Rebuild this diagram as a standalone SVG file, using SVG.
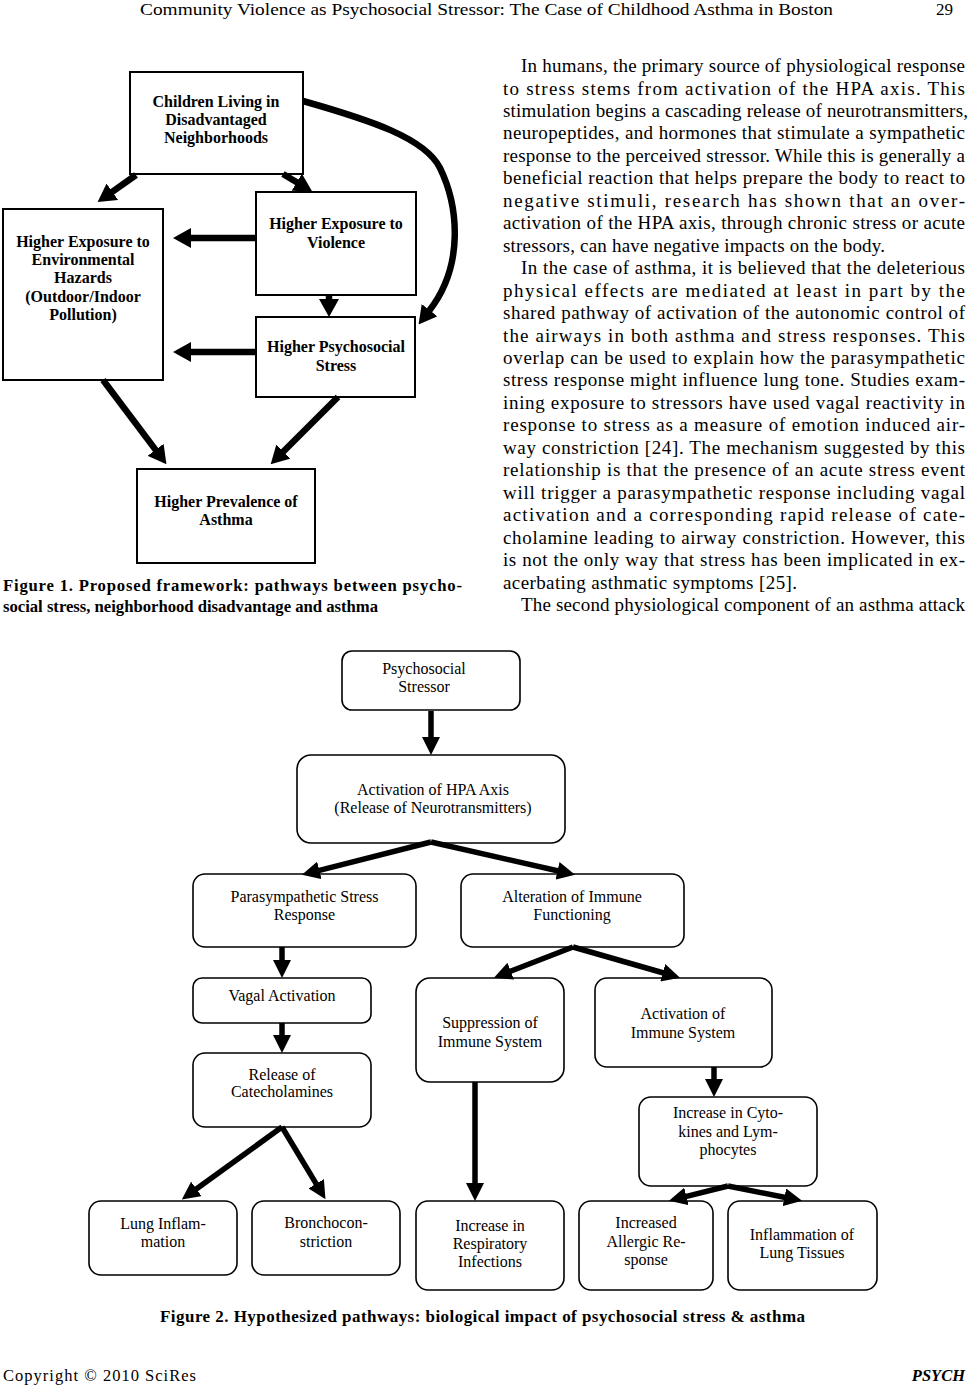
<svg xmlns="http://www.w3.org/2000/svg" width="969" height="1386" viewBox="0 0 969 1386">
<style>
text{font-family:"Liberation Serif","Times New Roman",serif;fill:#000}
.hd{font-size:17px}
.body{font-size:19px}
.f1{font-size:16px;font-weight:bold;text-anchor:middle}
.f2{font-size:16px;text-anchor:middle}
.cap{font-size:16.7px;font-weight:bold}
.b1{fill:#fff;stroke:#000;stroke-width:2}
.b2{fill:#fff;stroke:#000;stroke-width:1.6}
.a1{fill:none;stroke:#000;stroke-width:6.5;marker-end:url(#h1)}
.a2{fill:none;stroke:#000;stroke-width:5.5;marker-end:url(#h2)}
</style>
<defs>
<marker id="h1" markerUnits="userSpaceOnUse" viewBox="0 0 18 20" markerWidth="18" markerHeight="20" refX="1" refY="10" orient="auto"><path d="M0,0 L18,10 L0,20 z" fill="#000"/></marker>
<marker id="h2" markerUnits="userSpaceOnUse" viewBox="0 0 18 18" markerWidth="18" markerHeight="18" refX="1" refY="9" orient="auto"><path d="M0,0 L18,9 L0,18 z" fill="#000"/></marker>
</defs>
<rect width="969" height="1386" fill="#fff"/>

<!-- header -->
<text class="hd" x="140" y="15" textLength="693" lengthAdjust="spacingAndGlyphs">Community Violence as Psychosocial Stressor: The Case of Childhood Asthma in Boston</text>
<text class="hd" x="936" y="15">29</text>

<!-- body text -->
<g class="body">
<text x="521" y="72" textLength="444" lengthAdjust="spacing">In humans, the primary source of physiological response</text>
<text x="503" y="94.5" textLength="462" lengthAdjust="spacing">to stress stems from activation of the HPA axis. This</text>
<text x="503" y="116.9" textLength="465" lengthAdjust="spacing">stimulation begins a cascading release of neurotransmitters,</text>
<text x="503" y="139.4" textLength="462" lengthAdjust="spacing">neuropeptides, and hormones that stimulate a sympathetic</text>
<text x="503" y="161.8" textLength="462" lengthAdjust="spacing">response to the perceived stressor. While this is generally a</text>
<text x="503" y="184.3" textLength="462" lengthAdjust="spacing">beneficial reaction that helps prepare the body to react to</text>
<text x="503" y="206.8" textLength="462" lengthAdjust="spacing">negative stimuli, research has shown that an over-</text>
<text x="503" y="229.2" textLength="462" lengthAdjust="spacing">activation of the HPA axis, through chronic stress or acute</text>
<text x="503" y="251.7" textLength="382" lengthAdjust="spacing">stressors, can have negative impacts on the body.</text>
<text x="521" y="274.1" textLength="444" lengthAdjust="spacing">In the case of asthma, it is believed that the deleterious</text>
<text x="503" y="296.6" textLength="462" lengthAdjust="spacing">physical effects are mediated at least in part by the</text>
<text x="503" y="319.1" textLength="462" lengthAdjust="spacing">shared pathway of activation of the autonomic control of</text>
<text x="503" y="341.5" textLength="462" lengthAdjust="spacing">the airways in both asthma and stress responses. This</text>
<text x="503" y="364" textLength="462" lengthAdjust="spacing">overlap can be used to explain how the parasympathetic</text>
<text x="503" y="386.4" textLength="462" lengthAdjust="spacing">stress response might influence lung tone. Studies exam-</text>
<text x="503" y="408.9" textLength="462" lengthAdjust="spacing">ining exposure to stressors have used vagal reactivity in</text>
<text x="503" y="431.4" textLength="462" lengthAdjust="spacing">response to stress as a measure of emotion induced air-</text>
<text x="503" y="453.8" textLength="462" lengthAdjust="spacing">way constriction [24]. The mechanism suggested by this</text>
<text x="503" y="476.3" textLength="462" lengthAdjust="spacing">relationship is that the presence of an acute stress event</text>
<text x="503" y="498.7" textLength="462" lengthAdjust="spacing">will trigger a parasympathetic response including vagal</text>
<text x="503" y="521.2" textLength="462" lengthAdjust="spacing">activation and a corresponding rapid release of cate-</text>
<text x="503" y="543.7" textLength="462" lengthAdjust="spacing">cholamine leading to airway constriction. However, this</text>
<text x="503" y="566.1" textLength="462" lengthAdjust="spacing">is not the only way that stress has been implicated in ex-</text>
<text x="503" y="588.6" textLength="294" lengthAdjust="spacing">acerbating asthmatic symptoms [25].</text>
<text x="521" y="611" textLength="444" lengthAdjust="spacing">The second physiological component of an asthma attack</text>
</g>

<!-- Figure 1 -->
<g id="f1-children"><rect class="b1" x="130" y="72" width="173" height="102"/>
<text class="f1" x="216" y="106.5">Children Living in</text><text class="f1" x="216" y="124.7">Disadvantaged</text><text class="f1" x="216" y="142.8">Neighborhoods</text></g>
<g id="f1-env"><rect class="b1" x="3" y="209" width="160" height="171"/>
<text class="f1" x="83" y="246.7">Higher Exposure to</text><text class="f1" x="83" y="265">Environmental</text><text class="f1" x="83" y="283.3">Hazards</text><text class="f1" x="83" y="301.5">(Outdoor/Indoor</text><text class="f1" x="83" y="320">Pollution)</text></g>
<g id="f1-violence"><rect class="b1" x="256" y="192" width="160" height="103"/>
<text class="f1" x="336" y="229.3">Higher Exposure to</text><text class="f1" x="336" y="247.7">Violence</text></g>
<g id="f1-stress"><rect class="b1" x="256" y="317" width="159" height="80"/>
<text class="f1" x="336" y="352.3">Higher Psychosocial</text><text class="f1" x="336" y="370.7">Stress</text></g>
<g id="f1-asthma"><rect class="b1" x="137" y="469" width="178" height="94"/>
<text class="f1" x="226" y="506.7">Higher Prevalence of</text><text class="f1" x="226" y="524.5">Asthma</text></g>

<g id="f1-connectors">
<path class="a1" d="M136,175 L111.5,192.3"/>
<path class="a1" d="M283,174 L297.6,182.7"/>
<path class="a1" d="M303,101 C370,120 425,138 440,168 C458,205 465,265 429,311"/>
<path class="a1" d="M256,238 L190,238"/>
<path class="a1" d="M329,295 L329,300"/>
<path class="a1" d="M256,352 L190,352"/>
<path class="a1" d="M103,380 L156.2,450.6"/>
<path class="a1" d="M338,397 L282.7,452.3"/>
</g>

<text class="cap" x="3" y="590.5" textLength="459" lengthAdjust="spacing">Figure 1. Proposed framework: pathways between psycho-</text>
<text class="cap" x="3" y="611.5" textLength="375" lengthAdjust="spacing">social stress, neighborhood disadvantage and asthma</text>

<!-- Figure 2 -->
<g id="n-stressor"><rect class="b2" x="342" y="651" width="178" height="59" rx="10"/>
<text class="f2" x="424" y="674">Psychosocial</text><text class="f2" x="424" y="691.7">Stressor</text></g>
<g id="n-hpa"><rect class="b2" x="297" y="755" width="268" height="88" rx="14"/>
<text class="f2" x="433" y="795">Activation of HPA Axis</text><text class="f2" x="433" y="812.7">(Release of Neurotransmitters)</text></g>
<g id="n-para"><rect class="b2" x="193" y="874" width="223" height="73" rx="12"/>
<text class="f2" x="304.5" y="901.7">Parasympathetic Stress</text><text class="f2" x="304.5" y="920">Response</text></g>
<g id="n-alt"><rect class="b2" x="461" y="874" width="223" height="73" rx="12"/>
<text class="f2" x="572" y="901.7">Alteration of Immune</text><text class="f2" x="572" y="920">Functioning</text></g>
<g id="n-vagal"><rect class="b2" x="193" y="978" width="178" height="45" rx="9"/>
<text class="f2" x="282" y="1000.7">Vagal Activation</text></g>
<g id="n-release"><rect class="b2" x="193" y="1053" width="178" height="74" rx="12"/>
<text class="f2" x="282" y="1080">Release of</text><text class="f2" x="282" y="1097.3">Catecholamines</text></g>
<g id="n-supp"><rect class="b2" x="416" y="978" width="148" height="104" rx="14"/>
<text class="f2" x="490" y="1028.3">Suppression of</text><text class="f2" x="490" y="1046.7">Immune System</text></g>
<g id="n-act"><rect class="b2" x="595" y="978" width="177" height="89" rx="12"/>
<text class="f2" x="683" y="1019.3">Activation of</text><text class="f2" x="683" y="1037.7">Immune System</text></g>
<g id="n-cyto"><rect class="b2" x="639" y="1097" width="178" height="89" rx="12"/>
<text class="f2" x="728" y="1118.3">Increase in Cyto-</text><text class="f2" x="728" y="1136.7">kines and Lym-</text><text class="f2" x="728" y="1155">phocytes</text></g>
<g id="n-lung"><rect class="b2" x="89" y="1201" width="148" height="74" rx="12"/>
<text class="f2" x="163" y="1229.3">Lung Inflam-</text><text class="f2" x="163" y="1246.7">mation</text></g>
<g id="n-broncho"><rect class="b2" x="252" y="1201" width="148" height="74" rx="12"/>
<text class="f2" x="326" y="1228.3">Bronchocon-</text><text class="f2" x="326" y="1246.7">striction</text></g>
<g id="n-resp"><rect class="b2" x="416" y="1201" width="148" height="89" rx="12"/>
<text class="f2" x="490" y="1230.7">Increase in</text><text class="f2" x="490" y="1249">Respiratory</text><text class="f2" x="490" y="1267.3">Infections</text></g>
<g id="n-allergic"><rect class="b2" x="579" y="1201" width="134" height="89" rx="12"/>
<text class="f2" x="646" y="1228.3">Increased</text><text class="f2" x="646" y="1246.7">Allergic Re-</text><text class="f2" x="646" y="1265">sponse</text></g>
<g id="n-inflam"><rect class="b2" x="728" y="1201" width="149" height="89" rx="12"/>
<text class="f2" x="802" y="1240">Inflammation of</text><text class="f2" x="802" y="1258.3">Lung Tissues</text></g>

<g id="f2-connectors">
<path class="a2" d="M431,711 L431,738"/>
<path class="a2" d="M431,842 L318.4,870.6"/>
<path class="a2" d="M431,842 L558.5,871"/>
<path class="a2" d="M282,947 L282,961"/>
<path class="a2" d="M573,947 L509.8,971.5"/>
<path class="a2" d="M573,947 L663.7,973"/>
<path class="a2" d="M282,1023 L282,1036"/>
<path class="a2" d="M282,1127 L195.6,1189.5"/>
<path class="a2" d="M282,1127 L316.7,1184.6"/>
<path class="a2" d="M475,1082 L475,1184"/>
<path class="a2" d="M714,1067 L714,1080"/>
<path class="a2" d="M728,1186 L685.5,1196.6"/>
<path class="a2" d="M728,1186 L785.4,1197.5"/>
</g>

<text class="cap" x="160" y="1322" textLength="645" lengthAdjust="spacing" style="font-size:17px">Figure 2. Hypothesized pathways: biological impact of psychosocial stress &amp; asthma</text>

<!-- footer -->
<text x="3" y="1381" font-size="16.5" textLength="193" lengthAdjust="spacing">Copyright © 2010 SciRes</text>
<text x="965" y="1381" font-size="16.5" font-weight="bold" font-style="italic" text-anchor="end">PSYCH</text>
</svg>
